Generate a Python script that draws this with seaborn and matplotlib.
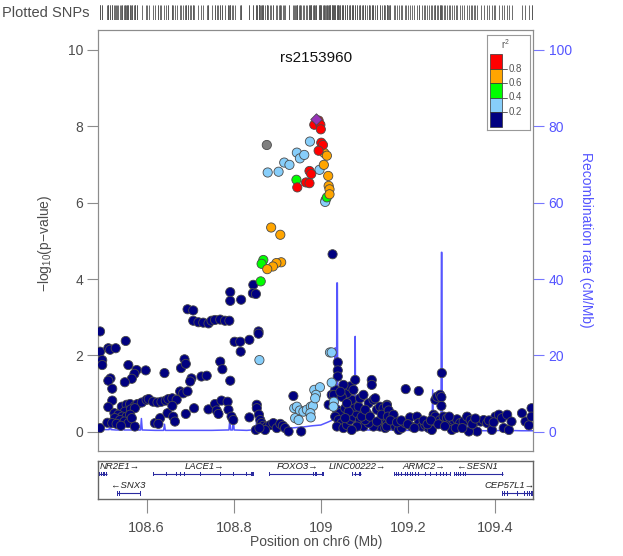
import numpy as np
import pandas as pd
import matplotlib
matplotlib.use("Agg")
import matplotlib.pyplot as plt
from matplotlib.patches import Rectangle
import seaborn as sns

sns.set_theme(style="white")
plt.rcParams['font.family'] = ['Liberation Sans', 'DejaVu Sans']
plt.rcParams['mathtext.fontset'] = 'custom'
plt.rcParams['mathtext.rm'] = 'Liberation Sans'
plt.rcParams['mathtext.it'] = 'Liberation Sans:italic'

# ---------------- data: (position Mb, -log10 p) per LD bin ----------------
snp_r2_0_02 = np.array([
    (108.493, 2.63), (108.493, 2.10), (108.498, 1.88), (108.498, 1.75), (108.512, 2.19), (108.516, 2.15),
    (108.529, 2.19), (108.552, 2.38), (108.558, 1.75), (108.577, 1.62), (108.572, 1.52), (108.566, 1.39),
    (108.550, 1.30), (108.598, 1.61), (108.517, 1.40), (108.512, 1.34), (108.521, 1.13), (108.521, 0.82),
    (108.512, 0.65), (108.493, 0.10), (108.543, 0.66), (108.554, 0.71), (108.562, 0.73), (108.573, 0.68),
    (108.579, 0.73), (108.589, 0.77), (108.600, 0.84), (108.605, 0.86), (108.615, 0.79), (108.625, 0.77),
    (108.634, 0.79), (108.644, 0.82), (108.650, 0.86), (108.659, 0.88), (108.669, 0.84), (108.550, 0.53),
    (108.564, 0.59), (108.573, 0.62), (108.526, 0.49), (108.535, 0.45), (108.544, 0.40), (108.554, 0.40),
    (108.562, 0.45), (108.527, 0.36), (108.539, 0.31), (108.549, 0.27), (108.558, 0.23), (108.566, 0.36),
    (108.573, 0.14), (108.510, 0.24), (108.521, 0.23), (108.531, 0.21), (108.541, 0.16), (108.619, 0.23),
    (108.631, 0.36), (108.627, 0.21), (108.648, 0.49), (108.661, 0.40), (108.665, 0.27), (108.690, 0.47),
    (108.709, 0.62), (108.742, 0.59), (108.757, 0.73), (108.761, 0.56), (108.765, 0.47), (108.772, 0.82),
    (108.786, 0.79), (108.788, 0.58), (108.795, 0.40), (108.799, 0.31), (108.659, 0.68), (108.641, 1.54),
    (108.679, 1.67), (108.687, 1.90), (108.690, 1.78), (108.703, 1.40), (108.700, 1.32), (108.726, 1.45),
    (108.738, 1.47), (108.677, 1.06), (108.684, 1.01), (108.694, 1.06),
    (108.694, 3.21), (108.707, 3.18), (108.707, 2.91), (108.719, 2.87), (108.730, 2.86), (108.742, 2.84),
    (108.749, 2.91), (108.757, 2.93), (108.769, 2.94), (108.780, 2.91), (108.790, 2.91), (108.792, 3.66),
    (108.792, 3.43), (108.817, 3.46), (108.802, 2.36), (108.815, 2.36), (108.816, 2.10), (108.769, 1.84),
    (108.774, 1.64), (108.792, 1.34),
    (108.845, 3.85), (108.844, 3.63), (108.851, 3.61), (108.857, 2.63), (108.857, 2.57), (108.836, 2.41),
    (108.853, 0.71), (108.853, 0.62), (108.836, 0.38), (108.858, 0.45), (108.861, 0.31), (108.864, 0.23),
    (108.868, 0.16), (108.876, 0.14), (108.884, 0.18), (108.891, 0.23), (108.872, 0.05), (108.899, 0.10),
    (108.907, 0.21), (108.913, 0.16), (108.918, 0.10), (108.926, 0.01), (108.955, 0.01), (108.851, 0.05),
    (108.859, 0.10), (108.937, 0.94), (109.027, 4.65),
    (109.039, 1.82), (109.039, 1.61), (109.039, 1.45), (109.033, 1.10), (109.025, 0.97), (109.030, 0.97),
    (109.018, 0.71), (109.037, 0.58), (109.044, 0.49), (109.033, 0.40), (109.041, 0.31), (109.048, 0.23),
    (109.037, 0.14), (109.052, 0.10), (109.060, 0.18), (109.067, 0.31), (109.075, 0.40), (109.083, 0.49),
    (109.079, 0.66), (109.071, 0.84), (109.060, 1.01), (109.067, 1.19), (109.079, 1.36), (109.052, 1.23),
    (109.048, 0.92), (109.075, 1.10), (109.087, 0.66), (109.090, 0.31), (109.098, 0.14), (109.106, 0.49),
    (109.110, 0.75), (109.117, 1.36), (109.117, 1.23), (109.121, 0.84), (109.125, 0.88), (109.129, 0.58),
    (109.136, 0.66), (109.144, 0.62), (109.152, 0.71), (109.136, 0.14), (109.144, 0.31), (109.152, 0.23),
    (109.121, 0.14), (109.110, 0.23), (109.102, 0.31), (109.094, 0.40), (109.056, 0.62), (109.064, 0.53),
    (109.090, 0.88), (109.098, 0.97), (109.102, 0.58), (109.113, 0.40), (109.129, 0.27), (109.140, 0.45),
    (109.148, 0.10), (109.056, 0.36), (109.083, 0.14), (109.071, 0.05), (109.045, 1.05), (109.060, 0.75),
    (109.152, 0.68), (109.156, 0.56), (109.154, 0.40), (109.167, 0.45), (109.159, 0.23), (109.152, 0.14),
    (109.171, 0.14), (109.179, 0.05), (109.186, 0.10), (109.194, 0.23), (109.195, 1.12), (109.225, 1.07),
    (109.205, 0.38), (109.209, 0.14), (109.221, 0.40), (109.225, 0.23), (109.232, 0.14), (109.240, 0.18),
    (109.248, 0.10), (109.255, 0.05), (109.259, 0.45), (109.263, 0.84), (109.267, 0.92), (109.274, 0.97),
    (109.277, 0.91), (109.277, 0.68), (109.278, 1.54), (109.263, 0.40), (109.274, 0.31), (109.282, 0.40),
    (109.290, 0.36), (109.297, 0.23), (109.305, 0.31), (109.313, 0.33), (109.320, 0.23), (109.328, 0.27),
    (109.336, 0.40), (109.344, 0.31), (109.351, 0.23), (109.359, 0.01), (109.367, 0.27), (109.374, 0.31),
    (109.382, 0.23), (109.393, 0.05), (109.401, 0.40), (109.409, 0.45), (109.416, 0.36), (109.420, 0.10),
    (109.428, 0.45), (109.432, 0.05), (109.438, 0.27), (109.462, 0.49), (109.470, 0.27), (109.478, 0.17),
    (109.484, 0.62), (109.484, 0.40), (109.301, 0.05), (109.340, 0.01), (109.160, 0.30), (109.175, 0.25),
    (109.185, 0.30), (109.200, 0.20), (109.215, 0.10), (109.236, 0.30), (109.245, 0.20), (109.253, 0.30),
    (109.270, 0.20), (109.285, 0.15), (109.295, 0.40), (109.310, 0.10), (109.325, 0.10), (109.348, 0.20),
    (109.355, 0.35), (109.386, 0.30), (109.397, 0.25),
])
snp_r2_02_04 = np.array([
    (108.975, 7.60), (108.945, 7.31), (108.952, 7.16), (108.962, 7.25), (108.916, 7.05), (108.928, 6.99),
    (108.878, 6.79), (108.903, 6.81), (108.997, 6.86), (109.011, 6.07), (109.010, 6.02),
    (108.859, 1.88), (108.939, 0.62), (108.945, 0.66), (108.952, 0.56), (108.960, 0.53), (108.968, 0.58),
    (108.977, 0.66), (108.982, 0.68), (108.976, 0.49), (108.977, 0.38), (108.941, 0.36), (108.949, 0.31),
    (108.985, 1.10), (108.998, 1.17), (108.989, 0.97), (108.987, 0.88), (109.021, 2.08), (109.025, 2.08),
    (109.025, 1.29), (109.030, 0.79), (109.029, 0.66),
])
snp_r2_04_06 = np.array([
    (108.944, 6.60), (109.014, 6.14), (108.868, 4.50), (108.864, 4.40), (108.862, 3.94),
])
snp_r2_06_08 = np.array([
    (109.008, 7.30), (109.014, 7.23), (109.007, 6.99), (109.017, 6.70), (109.018, 6.44), (109.020, 6.35),
    (109.020, 6.22), (108.886, 5.35), (108.907, 5.16), (108.909, 4.44), (108.898, 4.42), (108.890, 4.33),
    (108.877, 4.26),
])
snp_r2_08_10 = np.array([
    (108.995, 8.15), (108.985, 8.04), (108.999, 8.04), (109.000, 7.92), (109.001, 7.57), (109.005, 7.51),
    (108.995, 7.36), (108.974, 6.83), (108.978, 6.75), (108.966, 6.53), (108.974, 6.51), (108.946, 6.40),
])
snp_r2_na = np.array([(108.876, 7.51)])
ref_snp_name = "rs2153960"
ref_snp = np.array([(108.989, 8.18)])

# recombination rate (position Mb, cM/Mb)
recomb = np.array([
    (108.489, 0.8), (108.505, 0.6), (108.514, 0.6), (108.516, 3.0), (108.518, 0.6), (108.530, 0.5),
    (108.544, 0.5), (108.546, 2.5), (108.548, 0.5), (108.586, 0.5), (108.588, 3.5), (108.590, 0.5),
    (108.620, 0.4), (108.639, 0.4), (108.641, 2.0), (108.643, 0.4), (108.700, 0.4), (108.750, 0.4),
    (108.785, 0.5), (108.789, 0.5), (108.791, 3.0), (108.793, 0.5), (108.797, 0.5), (108.799, 3.5),
    (108.801, 0.5), (108.830, 0.4), (108.851, 0.6), (108.853, 4.0), (108.855, 0.8), (108.870, 0.7),
    (108.900, 0.9), (108.930, 1.0), (108.960, 1.3), (108.980, 1.6), (109.000, 1.8), (109.015, 2.5),
    (109.025, 3.0), (109.030, 3.5), (109.032, 5.0), (109.033, 22.0), (109.034, 5.0), (109.036, 4.0),
    (109.037, 39.0), (109.038, 39.0), (109.039, 3.0), (109.042, 1.0), (109.060, 0.5), (109.077, 0.5),
    (109.078, 1.0), (109.079, 25.0), (109.080, 1.0), (109.081, 0.5), (109.100, 0.5), (109.130, 0.5),
    (109.146, 0.5), (109.148, 4.0), (109.150, 0.5), (109.200, 0.4), (109.240, 0.4), (109.255, 0.5),
    (109.257, 11.0), (109.259, 0.8), (109.270, 1.0), (109.275, 2.0), (109.276, 2.0), (109.277, 47.0),
    (109.278, 47.0), (109.279, 2.0), (109.300, 0.4), (109.334, 0.4), (109.336, 3.0), (109.338, 0.4),
    (109.380, 0.3), (109.420, 0.4), (109.423, 2.0), (109.426, 0.4), (109.460, 0.3), (109.488, 0.3),
])

# genes
gene_names = ["NR2E1", "SNX3", "LACE1", "FOXO3", "LINC00222", "ARMC2", "SESN1", "CEP57L1"]
gene_start = [108.487, 108.531, 108.615, 108.882, 109.073, 109.169, 109.307, 109.416]
gene_end = [108.510, 108.585, 108.845, 109.006, 109.092, 109.297, 109.418, 109.495]
gene_strand = ["+", "-", "+", "+", "+", "+", "-", "+"]
gene_row = [0, 1, 0, 0, 0, 0, 0, 1]
gene_label_x = [108.538, 108.557, 108.733, 108.947, 109.085, 109.236, 109.360, 109.433]
gene_exons = [
    [108.491, 108.496, 108.500, 108.504, 108.508],
    [108.533, 108.537, 108.585],
    [108.615, 108.646, 108.669, 108.677, 108.688, 108.723, 108.769, 108.800, 108.830, 108.842, 108.845],
    [108.882, 108.983, 108.989, 109.004, 109.006],
    [109.073, 109.079, 109.089, 109.092],
    [109.169, 109.173, 109.178, 109.186, 109.194, 109.200, 109.205, 109.210, 109.218, 109.225, 109.240,
     109.251, 109.266, 109.274, 109.281, 109.289, 109.297],
    [109.307, 109.311, 109.316, 109.320, 109.328, 109.333, 109.418],
    [109.417, 109.421, 109.428, 109.452, 109.468, 109.475, 109.480, 109.485, 109.489],
]

ld_bins = ["0-0.2", "0.2-0.4", "0.4-0.6", "0.6-0.8", "0.8-1", "NA", "ref"]
ld_colors = ["#000080", "#87CEFA", "#00FF00", "#FFA500", "#FF0000", "#7F7F7F", "#9632B8"]
legend_ticks = ["0.8", "0.6", "0.4", "0.2"]

xlim = (108.489, 109.488)
x_ticks = [108.6, 108.8, 109.0, 109.2, 109.4]
x_ticklabels = ["108.6", "108.8", "109", "109.2", "109.4"]

# ---------------- build frame ----------------
arrays = [snp_r2_0_02, snp_r2_02_04, snp_r2_04_06, snp_r2_06_08, snp_r2_08_10, snp_r2_na]
df = pd.concat([pd.DataFrame({"pos": a[:, 0], "logp": a[:, 1], "ld": b})
                for a, b in zip(arrays, ld_bins[:-1])], ignore_index=True)
palette = dict(zip(ld_bins, ld_colors))

# ---------------- figure ----------------
W, H = 623, 556
fig = plt.figure(figsize=(W / 100, H / 100), dpi=100)


def frac(x0, y0, x1, y1):
    return [x0 / W, 1 - y1 / H, (x1 - x0) / W, (y1 - y0) / H]


grey_txt = "#4d4d4d"
grey_line = "#8c8c8c"
blue_txt = "#5555FF"

ax = fig.add_axes(frac(98.3, 30, 533.3, 451))
ax2 = ax.twinx()
ax.set_zorder(ax2.get_zorder() + 1)
ax.patch.set_visible(False)

sns.lineplot(x=recomb[:, 0], y=recomb[:, 1], ax=ax2, color="#4444FF", lw=1.1,
             estimator=None, sort=False, alpha=0.9)
ax2.set_ylim(-5, 105.2)
ax2.set_yticks([0, 20, 40, 60, 80, 100])
ax2.tick_params(axis="y", colors="#7777FF", labelcolor=blue_txt, length=8, width=0.8,
                labelsize=10, pad=3, direction="out", right=True)
ax2.set_ylabel("")

sns.scatterplot(data=df, x="pos", y="logp", hue="ld", palette=palette, ax=ax, s=44,
                edgecolor="#4a4a4a", linewidth=0.6, legend=False, zorder=3)
sns.scatterplot(x=ref_snp[:, 0], y=ref_snp[:, 1], ax=ax, color=palette["ref"], marker="D", s=34,
                edgecolor="#4a4a4a", linewidth=0.6, legend=False, zorder=4)

ax.set_xlim(*xlim)
ax.set_ylim(-0.5, 10.52)
ax.set_yticks([0, 2, 4, 6, 8, 10])
ax.set_xticks([])
ax.tick_params(axis="y", colors=grey_line, labelcolor=grey_txt, length=8, width=0.8,
               labelsize=10, pad=3, direction="out", left=True)
ax.set_xlabel("")
ax.set_ylabel("")
for a in (ax, ax2):
    for sp in a.spines.values():
        sp.set_color(grey_line)
        sp.set_linewidth(0.8)

ax.text(ref_snp[0, 0], 9.8, ref_snp_name, ha="center", va="center", fontsize=11, color="#111111")

fig.text(45 / W, 1 - 243 / H, r"$-$log$_{10}$(p$-$value)", rotation=90, ha="center", va="center",
         fontsize=10, color=grey_txt)
fig.text(586 / W, 1 - 240 / H, "Recombination rate (cM/Mb)", rotation=270, ha="center", va="center",
         fontsize=10, color=blue_txt)

# ---------------- legend ----------------
lg = fig.add_axes(frac(486.7, 35, 530, 130))
lg.set_xlim(486.7, 530)
lg.set_ylim(130, 35)
lg.set_xticks([])
lg.set_yticks([])
for sp in lg.spines.values():
    sp.set_color("#999999")
    sp.set_linewidth(0.8)
lg.set_facecolor("white")
box_top, box_h = 54, 14.5
for i, c in enumerate(ld_colors[4::-1]):
    lg.add_patch(Rectangle((490, box_top + i * box_h), 11.7, box_h, facecolor=c,
                           edgecolor="#333333", lw=0.5))
for i, t in enumerate(legend_ticks):
    yy = box_top + (i + 1) * box_h
    lg.plot([501.7, 507], [yy, yy], color="#444444", lw=0.6)
    lg.text(508.5, yy, t, ha="left", va="center", fontsize=7, color="#555555")
lg.text(505, 44, r"r$^2$", ha="center", va="center", fontsize=7, color="#555555")

# ---------------- gene track ----------------
gx = fig.add_axes(frac(98.3, 460.7, 533.3, 499))
gx.set_xlim(*xlim)
gx.set_ylim(0, 1)
gx.set_yticks([])
gx.set_xticks(x_ticks)
gx.set_xticklabels(x_ticklabels)
gx.tick_params(axis="x", colors=grey_line, labelcolor=grey_txt, length=10, width=0.8,
               labelsize=10.5, pad=6, direction="out", bottom=True)
gx.set_xlabel("Position on chr6 (Mb)", fontsize=10, color=grey_txt, labelpad=0)
for sp in gx.spines.values():
    sp.set_color("#666666")
    sp.set_linewidth(1.0)
gene_col = "#2B2BA0"
row_line = [0.65, 0.15]
row_text = [0.86, 0.36]
for name, s, e, st, r, lx, ex in zip(gene_names, gene_start, gene_end, gene_strand, gene_row,
                                      gene_label_x, gene_exons):
    yl = row_line[r]
    gx.plot([s, e], [yl, yl], color=gene_col, lw=0.8, solid_capstyle="butt")
    for p in ex:
        gx.add_patch(Rectangle((p - 0.0012, yl - 0.06), 0.0024, 0.12, facecolor=gene_col,
                               edgecolor="none"))
    label = f"{name}\u2192" if st == "+" else f"\u2190{name}"
    gx.text(lx, row_text[r], label, ha="center", va="center", fontsize=6.8, style="italic",
            color="#222222")

# ---------------- plotted SNPs rug ----------------
rx = fig.add_axes(frac(98.3, 5, 533.3, 20))
rx.set_xlim(*xlim)
rx.set_ylim(0, 1)
rx.axis("off")
all_pos = np.concatenate([a[:, 0] for a in arrays] + [ref_snp[:, 0]])
rx.vlines(all_pos, 0, 1, color="#555555", lw=0.6)
fig.text(2 / W, 1 - 13 / H, "Plotted SNPs", ha="left", va="center", fontsize=10.5, color=grey_txt)

fig.savefig("out.png", dpi=100)
